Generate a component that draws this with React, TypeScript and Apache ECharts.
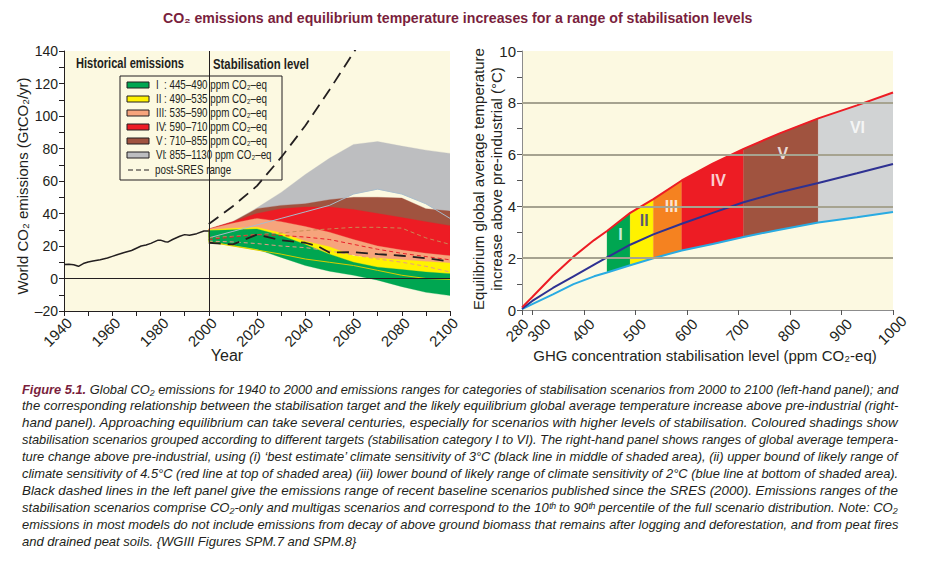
import { useEffect, useRef } from "react";
import * as echarts from "echarts";

// ---------- Left panel data ----------
const histYears = [1940, 1942, 1944, 1946, 1948, 1950, 1952, 1955, 1958, 1960, 1962, 1965, 1968, 1970, 1972, 1974, 1976, 1979, 1980, 1982, 1983, 1985, 1988, 1990, 1992, 1995, 1998, 2000];
const histValues = [8.6, 8.7, 8.5, 7.5, 9.2, 10.2, 10.8, 11.6, 12.6, 13.6, 14.6, 16.0, 17.2, 18.6, 20.0, 20.6, 21.6, 23.6, 23.6, 22.6, 22.4, 24.0, 26.0, 27.0, 26.6, 27.6, 29.2, 29.2];

const sresUpperYears = [2000, 2010, 2020, 2030, 2040, 2050, 2060, 2070];
const sresUpperValues = [33.5, 44.5, 57, 74.5, 94, 116, 139, 162];
const sresLowerYears = [2000, 2010, 2020, 2030, 2040, 2045, 2050, 2060, 2070, 2080, 2090, 2100];
const sresLowerValues = [22, 21, 27, 23.5, 22, 20, 16, 16.2, 15, 14, 12.5, 10.5];

const bandYears = [2000, 2010, 2020, 2030, 2040, 2050, 2060, 2070, 2080, 2090, 2100];
const catVIUpper = [30, 35, 43.5, 53, 64, 74, 82.5, 84.3, 81.5, 79, 77];
const catVILower = [25, 29, 33, 37, 41, 45, 52, 55, 52, 46, 37];
const catVUpper = [30.5, 35, 43, 45, 46, 48.5, 50, 50, 49.5, 43, 41.5];
const catVLower = [25, 26, 27, 28, 29.5, 30.5, 31.5, 31.5, 31, 25, 21];
const catIVUpper = [30.5, 35, 40, 43, 44, 44, 42.5, 40, 37.5, 35, 32.5];
const catIVLower = [24, 25.5, 27, 26.5, 25.5, 24, 21, 18, 15.5, 13.5, 11.5];
const catIIIUpper = [30.5, 34, 37, 35, 32, 28.5, 24, 20, 17.5, 15.5, 14];
const catIIILower = [23, 22.5, 21.5, 20, 19, 17, 14.5, 12, 10, 7.5, 4];
const catIIUpper = [30, 31, 31.5, 28, 23, 19.5, 14, 12.5, 11.5, 10.5, 9.5];
const catIILower = [22.5, 20, 17.5, 15, 12, 10, 8, 5, 2, 0, -0.5];
const catIUpper = [29.5, 30, 30.5, 26.5, 21, 15, 10, 7, 5.5, 4, 3];
const catILower = [23, 20.5, 18, 13, 8, 4.5, 2, -1, -5, -8.5, -10.5];

const yearLabels = [1940, 1960, 1980, 2000, 2020, 2040, 2060, 2080, 2100];
const legendNumerals = ["I", "II", "III", "IV", "V", "VI"];
const legendRanges = ["445–490", "490–535", "535–590", "590–710", "710–855", "855–1130"];

// ---------- Right panel data ----------
const ppm = [280, 300, 340, 380, 420, 445, 490, 535, 590, 650, 710, 780, 855, 930, 1000];
const tempHigh = [0.1, 0.5, 1.32, 2.06, 2.7, 3.05, 3.75, 4.28, 5.0, 5.65, 6.22, 6.82, 7.4, 7.9, 8.4];
const tempBest = [0.05, 0.35, 0.85, 1.3, 1.75, 2.03, 2.52, 2.92, 3.33, 3.75, 4.16, 4.55, 4.9, 5.28, 5.64];
const tempLow = [0.03, 0.23, 0.6, 1.0, 1.3, 1.45, 1.73, 2.0, 2.3, 2.55, 2.82, 3.1, 3.38, 3.58, 3.78];
const categoryNames = ["I", "II", "III", "IV", "V", "VI"];
const categoryFrom = [445, 490, 535, 590, 710, 855];
const categoryTo = [490, 535, 590, 710, 855, 1000];
const categoryLabelPpm = [471, 517, 570, 661, 786, 931];
const categoryLabelTemp = [2.93, 3.45, 4.0, 5.0, 6.06, 7.06];
const ppmTicks = [280, 300, 400, 500, 600, 700, 800, 900, 1000];
const tempGridValues = [2, 4, 6, 8];

const caption = [
  ["Figure 5.1.", " Global CO₂ emissions for 1940 to 2000 and emissions ranges for categories of stabilisation scenarios from 2000 to 2100 (left-hand panel); and"],
  ["", "the corresponding relationship between the stabilisation target and the likely equilibrium global average temperature increase above pre-industrial (right-"],
  ["", "hand panel). Approaching equilibrium can take several centuries, especially for scenarios with higher levels of stabilisation. Coloured shadings show"],
  ["", "stabilisation scenarios grouped according to different targets (stabilisation category I to VI). The right-hand panel shows ranges of global average tempera-"],
  ["", "ture change above pre-industrial, using (i) ‘best estimate’ climate sensitivity of 3°C (black line in middle of shaded area), (ii) upper bound of likely range of"],
  ["", "climate sensitivity of 4.5°C (red line at top of shaded area) (iii) lower bound of likely range of climate sensitivity of 2°C (blue line at bottom of shaded area)."],
  ["", "Black dashed lines in the left panel give the emissions range of recent baseline scenarios published since the SRES (2000). Emissions ranges of the"],
  ["", "stabilisation scenarios comprise CO₂-only and multigas scenarios and correspond to the 10ᵗʰ to 90ᵗʰ percentile of the full scenario distribution. Note: CO₂"],
  ["", "emissions in most models do not include emissions from decay of above ground biomass that remains after logging and deforestation, and from peat fires"],
  ["", "and drained peat soils. {WGIII Figures SPM.7 and SPM.8}"],
];

// ---------- Styles ----------
const CREAM = "#FCF9E1";
const INK = "#231F20";
const MAROON = "#7A1F3D";
const SANS = "'Liberation Sans', Arial, sans-serif";
const leftColors = ["#00A651", "#FFF200", "#F6A47C", "#ED1C24", "#A0533F", "#BDBEC0"];
const rightColors = ["#00A651", "#FFF200", "#F58220", "#ED1C24", "#A0533F", "#D1D3D4"];

let measureCtx: CanvasRenderingContext2D | null = null;
function textWidth(text: string, font: string) {
  if (!measureCtx) measureCtx = document.createElement("canvas").getContext("2d");
  if (!measureCtx) return text.length * 6;
  measureCtx.font = font;
  return measureCtx.measureText(text).width;
}

function bandPolygon(xs: number[], lower: number[], upper: number[], color: string, axis: number) {
  return {
    type: "custom", xAxisIndex: axis, yAxisIndex: axis, silent: true, clip: true,
    data: xs.map((x, i) => [x, lower[i], upper[i]]),
    encode: { x: 0, y: [1, 2] },
    renderItem: (params: any, api: any) => {
      if (params.dataIndex !== 0) return null;
      const pts: number[][] = [];
      for (let i = 0; i < xs.length; i++) pts.push(api.coord([xs[i], upper[i]]));
      for (let i = xs.length - 1; i >= 0; i--) pts.push(api.coord([xs[i], lower[i]]));
      return { type: "polygon", shape: { points: pts }, style: { fill: color, stroke: color, lineWidth: 0.3 } };
    },
  };
}

function lineSeries(xs: number[], ys: number[], color: string, width: number, type: any, axis = 0) {
  return {
    type: "line", xAxisIndex: axis, yAxisIndex: axis, symbol: "none", silent: true,
    data: xs.map((x, i) => [x, ys[i]]),
    lineStyle: { color, width, type },
  };
}

export default function App() {
  const ref = useRef<HTMLDivElement>(null);
  useEffect(() => {
    if (!ref.current) return;
    const chart = echarts.init(ref.current, undefined, { renderer: "svg" });

    const series: any[] = [];
    // left bands (back to front)
    series.push(bandPolygon(bandYears, catVILower, catVIUpper, leftColors[5], 0));
    series.push(bandPolygon(bandYears, catVLower, catVUpper, leftColors[4], 0));
    series.push(bandPolygon(bandYears, catIVLower, catIVUpper, leftColors[3], 0));
    series.push(bandPolygon(bandYears, catIIILower, catIIIUpper, leftColors[2], 0));
    series.push(bandPolygon(bandYears, catIILower, catIIUpper, leftColors[1], 0));
    series.push(bandPolygon(bandYears, catILower, catIUpper, leftColors[0], 0));
    // band lower-bound lines
    series.push(lineSeries(bandYears, catVILower, "#A9BCCB", 1, "solid"));
    series.push(lineSeries(bandYears, catVLower, "#C98A55", 1, [4, 3]));
    series.push(lineSeries(bandYears, catIVLower, "#E8202A", 1, [4, 3]));
    series.push(lineSeries(bandYears, catIIILower, "#E79A86", 1, [4, 3]));
    series.push(lineSeries(bandYears, catIILower, "#D9CC00", 1, "solid"));
    // post-SRES range
    series.push(lineSeries(sresLowerYears, sresLowerValues, INK, 1.8, [12, 7]));
    series.push(lineSeries(sresUpperYears, sresUpperValues, INK, 1.8, [12, 7]));
    // historical
    series.push({
      ...lineSeries(histYears, histValues, INK, 1.5, "solid"),
      markLine: {
        silent: true, symbol: "none", label: { show: false }, animation: false,
        lineStyle: { color: INK, type: "solid", width: 1 },
        data: [{ xAxis: 2000 }, { yAxis: 0 }],
      },
    });

    // right panel: grid lines first (behind)
    series.push({
      type: "line", xAxisIndex: 1, yAxisIndex: 1, data: [], silent: true,
      markLine: {
        silent: true, symbol: "none", label: { show: false }, animation: false,
        lineStyle: { color: "#A6A390", type: "solid", width: 2 },
        data: tempGridValues.map((v) => ({ yAxis: v })),
      },
    });
    categoryNames.forEach((name, k) => {
      const idx = ppm.map((_, i) => i).filter((i) => ppm[i] >= categoryFrom[k] && ppm[i] <= categoryTo[k]);
      series.push(bandPolygon(idx.map((i) => ppm[i]), idx.map((i) => tempLow[i]), idx.map((i) => tempHigh[i]), rightColors[k], 1));
    });
    series.push(lineSeries(ppm, tempLow, "#29ABE2", 2, "solid", 1));
    series.push(lineSeries(ppm, tempBest, "#2E3192", 2, "solid", 1));
    series.push(lineSeries(ppm, tempHigh, "#ED1C24", 2, "solid", 1));
    series.push({
      type: "scatter", xAxisIndex: 1, yAxisIndex: 1, symbolSize: 0, silent: true,
      data: categoryNames.map((n, k) => ({
        value: [categoryLabelPpm[k], categoryLabelTemp[k]], name: n,
        label: n === "II" ? { color: "#2E3192" } : undefined,
      })),
      label: {
        show: true, position: "inside", formatter: (p: any) => p.name,
        fontFamily: SANS, fontWeight: "bold", fontSize: 16, color: "#ffffff",
      },
      labelLayout: { hideOverlap: false },
    });

    const graphics: any[] = [];
    const titleText = "CO₂ emissions and equilibrium temperature increases for a range of stabilisation levels";
    const titleFont = `bold 14px ${SANS}`;
    const titleScale = 590 / textWidth(titleText, titleFont);
    graphics.push({
      type: "text", x: 163, y: 18, scaleX: titleScale,
      style: { text: titleText, fill: MAROON, font: titleFont, verticalAlign: "middle" },
    });
    const labFont = `bold 14px ${SANS}`;
    graphics.push({ type: "text", x: 76, y: 64, scaleX: 108 / textWidth("Historical emissions", labFont), style: { text: "Historical emissions", fill: INK, font: labFont, verticalAlign: "middle" } });
    graphics.push({ type: "text", x: 213, y: 64, scaleX: 96 / textWidth("Stabilisation level", labFont), style: { text: "Stabilisation level", fill: INK, font: labFont, verticalAlign: "middle" } });
    // axis names
    graphics.push({ type: "text", x: 22, y: 186, rotation: Math.PI / 2, style: { text: "World CO₂ emissions (GtCO₂/yr)", fill: INK, font: `15px ${SANS}`, align: "center", verticalAlign: "middle" } });
    graphics.push({ type: "text", x: 227, y: 355, style: { text: "Year", fill: INK, font: `16px ${SANS}`, align: "center", verticalAlign: "middle" } });
    graphics.push({ type: "text", x: 478, y: 179, rotation: Math.PI / 2, style: { text: "Equilibrium global average temperature", fill: INK, font: `15px ${SANS}`, align: "center", verticalAlign: "middle" } });
    graphics.push({ type: "text", x: 496, y: 179, rotation: Math.PI / 2, style: { text: "increase above pre-industrial (°C)", fill: INK, font: `15px ${SANS}`, align: "center", verticalAlign: "middle" } });
    graphics.push({ type: "text", x: 705, y: 355, style: { text: "GHG concentration stabilisation level (ppm CO₂-eq)", fill: INK, font: `15px ${SANS}`, align: "center", verticalAlign: "middle" } });

    // legend
    const legFont = `12px ${SANS}`;
    const legScale = 103 / textWidth(": 445–490 ppm CO₂–eq", legFont);
    const legendChildren: any[] = [
      { type: "rect", shape: { x: 120, y: 76, width: 162, height: 104 }, style: { fill: CREAM, stroke: INK, lineWidth: 1 } },
    ];
    legendNumerals.forEach((num, k) => {
      const yy = 85 + k * 14;
      legendChildren.push({ type: "rect", shape: { x: 127, y: yy - 3, width: 22, height: 6 }, style: { fill: leftColors[k], stroke: INK, lineWidth: 1 } });
      legendChildren.push({ type: "text", x: 156, y: yy, scaleX: legScale, style: { text: num, fill: INK, font: legFont, verticalAlign: "middle" } });
      legendChildren.push({ type: "text", x: 164, y: yy, scaleX: legScale, style: { text: `: ${legendRanges[k]} ppm CO₂–eq`, fill: INK, font: legFont, verticalAlign: "middle" } });
    });
    legendChildren.push({ type: "line", shape: { x1: 128, y1: 170, x2: 149, y2: 170 }, style: { stroke: INK, lineWidth: 1, lineDash: [5, 3] } });
    legendChildren.push({ type: "text", x: 155, y: 170, scaleX: legScale, style: { text: "post-SRES range", fill: INK, font: legFont, verticalAlign: "middle" } });
    graphics.push({ type: "group", z: 100, children: legendChildren });

    // caption (justified by horizontal scaling)
    const capFont = `italic 13px ${SANS}`;
    const capBold = `italic bold 13px ${SANS}`;
    const scales: number[] = [];
    caption.forEach(([b, t], i) => {
      const w = (b ? textWidth(b, capBold) : 0) + textWidth(t, capFont);
      const s = i === caption.length - 1 ? scales.reduce((a, c) => a + c, 0) / Math.max(1, scales.length) : 877 / w;
      scales.push(s);
      graphics.push({
        type: "text", x: 22, y: 389 + i * 16.9, scaleX: s,
        style: {
          text: b ? `{b|${b}}${t}` : t, verticalAlign: "middle", fill: INK, font: capFont,
          rich: { b: { fontWeight: "bold", fontStyle: "italic", fontSize: 13, fontFamily: SANS, fill: MAROON } },
        },
      });
    });

    const axisText = { color: INK, fontFamily: SANS, fontSize: 15 };
    chart.setOption({
      animation: false,
      backgroundColor: "#ffffff",
      grid: [
        { left: 64, top: 51, width: 386, height: 260, show: true, backgroundColor: CREAM, borderWidth: 0 },
        { left: 522, top: 51, width: 371, height: 259, show: true, backgroundColor: CREAM, borderWidth: 0 },
      ],
      xAxis: [
        {
          gridIndex: 0, type: "value", min: 1940, max: 2100, interval: 20,
          axisLine: { onZero: false, lineStyle: { color: INK, width: 1 } },
          axisTick: { length: 5, lineStyle: { color: INK } },
          minorTick: { show: true, splitNumber: 2, length: 5, lineStyle: { color: INK } },
          axisLabel: { show: false },
          splitLine: { show: false },
        },
        {
          gridIndex: 1, type: "value", min: 280, max: 1000, position: "bottom",
          axisLine: { onZero: false, lineStyle: { color: "#8C8C8C", width: 1 } },
          axisTick: { length: 5, customValues: ppmTicks, lineStyle: { color: "#555" } },
          axisLabel: { show: false },
          splitLine: { show: false },
        },
      ],
      yAxis: [
        {
          gridIndex: 0, type: "value", min: -20, max: 140, interval: 20,
          axisLine: { show: true, lineStyle: { color: INK, width: 1 } },
          axisTick: { show: true, length: 5, lineStyle: { color: INK } },
          minorTick: { show: true, splitNumber: 2, length: 5, lineStyle: { color: INK } },
          axisLabel: { ...axisText, fontSize: 14, margin: 6, formatter: (v: number) => (v < 0 ? "–" + -v : String(v)) },
          splitLine: { show: false },
        },
        {
          gridIndex: 1, type: "value", min: 0, max: 10, interval: 2,
          axisLine: { show: true, lineStyle: { color: "#8C8C8C", width: 1 } },
          axisTick: { show: true, length: 5, lineStyle: { color: "#555" } },
          minorTick: { show: true, splitNumber: 2, length: 5, lineStyle: { color: "#555" } },
          axisLabel: { ...axisText, margin: 6 },
          splitLine: { show: false },
        },
      ],
      series,
      graphic: graphics,
    });

    // rotated x tick labels placed through the axes' own scales
    const tickLabels: any[] = [];
    const rotText = (v: number, x: number, y: number) => ({
      type: "text", x, y, rotation: Math.PI / 4,
      style: { text: String(v), fill: INK, font: `15px ${SANS}`, align: "center", verticalAlign: "middle" },
    });
    const leftBottom = chart.convertToPixel({ yAxisIndex: 0 }, -20) as number;
    yearLabels.forEach((v) => {
      const px = chart.convertToPixel({ xAxisIndex: 0 }, v) as number;
      tickLabels.push(rotText(v, px - 6.5, leftBottom + 21));
    });
    const rightBottom = chart.convertToPixel({ yAxisIndex: 1 }, 0) as number;
    ppmTicks.forEach((v) => {
      const px = chart.convertToPixel({ xAxisIndex: 1 }, v) as number;
      const dx = v === 280 ? -5 : v === 300 ? 6.5 : -1;
      tickLabels.push(rotText(v, px + dx, rightBottom + 20));
    });
    chart.setOption({ graphic: [...graphics, ...tickLabels] });

    return () => chart.dispose();
  }, []);
  return <div ref={ref} style={{ position: "fixed", left: 0, top: 0, width: 929, height: 564, background: "#fff" }} />;
}
